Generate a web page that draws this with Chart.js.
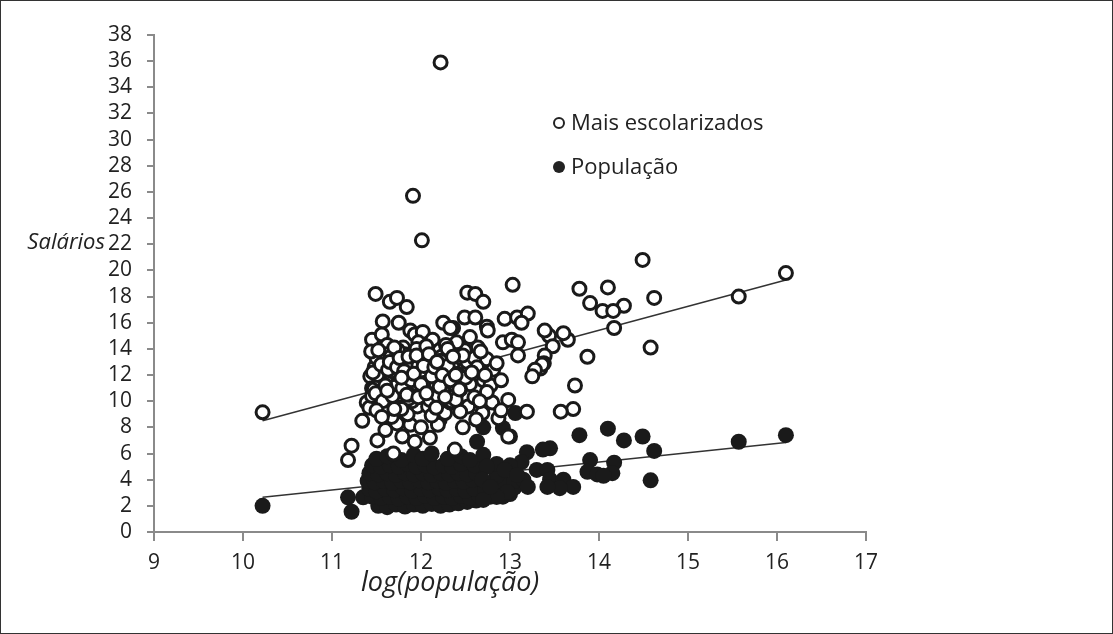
<!DOCTYPE html>
<html>
<head>
<meta charset="utf-8">
<script src="https://cdn.jsdelivr.net/npm/chart.js@4.4.0/dist/chart.umd.min.js"></script>
<style>
  body { margin: 0; background: #fff; }
  #wrap { position: relative; width: 1113px; height: 634px; font-family: "Open Sans", sans-serif; color: #222; }
  #frame { position: absolute; left: 0; top: 0; width: 1113px; height: 634px; box-sizing: border-box; border: 1px solid #333; pointer-events: none; }
  .lbl { position: absolute; white-space: nowrap; font-size: 22px; line-height: 1; }
  .it { font-style: italic; }
  .mk { position: absolute; width: 12px; height: 12px; border-radius: 50%; box-sizing: border-box; }
</style>
</head>
<body>
<div id="wrap">
  <canvas id="chart" width="1113" height="634"></canvas>
  <div class="lbl it" style="right:1008px; top:229px; font-size:22px;">Salários</div>
  <div class="lbl it" style="left:361px; top:567px; font-size:27px;">log(população)</div>
  <div class="mk" style="left:553px; top:117px; border:2px solid #222;"></div>
  <div class="lbl" style="left:571px; top:110px;">Mais escolarizados</div>
  <div class="mk" style="left:553px; top:161px; background:#222;"></div>
  <div class="lbl" style="left:571px; top:154px;">População</div>
  <div id="frame"></div>
</div>
<script>
// log(população) x salário, grupo mais escolarizado (círculos abertos)
const openX = [12.22, 11.91, 12.01, 10.22, 14.49, 16.10, 15.57, 14.62, 14.10, 13.78, 13.90, 14.28, 14.04, 14.16, 14.17, 14.58, 13.87, 13.73, 13.71, 13.57,
  13.65, 13.60, 13.44, 13.39, 13.48, 13.39, 13.38, 13.34, 13.03, 12.52, 12.61, 12.70, 12.49, 12.61, 12.74, 12.75, 12.94, 13.08, 13.20, 13.13,
  12.92, 13.02, 13.09, 13.09, 13.36, 13.28, 13.25, 12.36, 12.55, 12.64, 12.74, 12.81, 12.49, 12.40, 12.33, 11.49, 11.65, 11.73, 11.84, 11.57,
  11.75, 11.88, 11.93, 12.02, 11.97, 12.13, 12.25, 12.33, 11.45, 11.56, 11.80, 11.54, 11.69, 12.21, 11.43, 11.34, 11.51, 11.79, 11.93, 12.10,
  11.22, 11.18, 11.69, 12.21, 12.19, 12.27, 12.18, 12.33, 11.80, 11.96, 11.82, 12.04, 11.65, 11.45, 11.39, 11.57, 11.73, 11.88, 12.53, 12.80,
  12.98, 12.69, 12.87, 13.19, 12.47, 12.98, 12.38, 12.33, 12.70, 12.58, 12.78, 12.74, 11.42,
  11.48, 11.50, 11.52, 11.55, 11.58, 11.60, 11.62, 11.63, 11.66, 11.68, 11.70, 11.72, 11.75, 11.77, 11.79, 11.82, 11.85, 11.87, 11.90, 11.92,
  11.94, 11.96, 11.98, 12.00, 12.02, 12.05, 12.07, 12.09, 12.11, 12.14, 12.16, 12.18, 12.20, 12.23, 12.25, 12.27, 12.29, 12.31, 12.36, 12.40,
  12.42, 12.45, 12.48, 12.52, 12.55, 12.60, 12.63, 12.67, 12.85, 12.90,
  11.45, 11.62, 11.67, 11.85, 11.90, 12.08, 12.12, 12.00, 11.60, 12.28, 12.40, 12.44, 12.60, 12.62, 12.90,
  11.47, 11.53, 11.59, 11.61, 11.64, 11.67, 11.71, 11.74, 11.76, 11.81, 11.83, 11.86, 11.89, 11.91, 11.95, 11.99, 12.03, 12.06, 12.10, 12.13,
  12.15, 12.19, 12.22, 12.26, 12.30, 12.34, 12.37, 12.41, 12.44, 12.47, 11.44, 11.51, 11.58, 11.66, 11.78, 11.87, 11.97, 12.06, 12.17, 12.28,
  12.39, 12.50, 12.57, 12.66, 12.72,
  11.46, 11.49, 11.52, 11.55, 11.57, 11.60, 11.63, 11.65, 11.68, 11.70, 11.73, 11.76, 11.79, 11.81, 11.84, 11.86, 11.89, 11.92, 11.95, 11.97,
  12.00, 12.03, 12.06, 12.09, 12.12, 12.15, 12.18, 12.21, 12.24, 12.27, 12.30, 12.33, 12.36, 12.39, 12.43, 11.50, 11.56, 11.62, 11.70, 11.78];
const openY = [35.9, 25.7, 22.3, 9.15, 20.8, 19.8, 18.0, 17.9, 18.7, 18.6, 17.5, 17.3, 16.9, 16.9, 15.6, 14.1, 13.4, 11.2, 9.4, 9.2,
  14.7, 15.2, 15.0, 15.4, 14.2, 13.5, 12.9, 12.5, 18.9, 18.3, 18.2, 17.6, 16.4, 16.4, 15.7, 15.4, 16.3, 16.4, 16.7, 16.0,
  14.5, 14.7, 14.5, 13.5, 12.8, 12.4, 11.9, 15.6, 14.9, 14.1, 13.2, 12.4, 13.9, 14.5, 13.7, 18.2, 17.6, 17.9, 17.2, 16.1,
  16.0, 15.4, 15.1, 15.3, 14.5, 14.7, 16.0, 15.6, 14.7, 15.1, 14.1, 13.9, 13.7, 13.9, 11.9, 8.5, 7.0, 7.3, 6.9, 7.2,
  6.6, 5.5, 6.0, 8.6, 8.2, 9.1, 9.9, 9.9, 9.6, 9.6, 10.6, 10.3, 10.6, 11.0, 9.9, 9.1, 8.3, 8.2, 9.6, 9.9,
  10.1, 9.1, 8.7, 9.2, 8.0, 7.3, 6.3, 11.2, 11.6, 12.0, 11.2, 10.7, 9.5,
  12.6, 13.3, 10.3, 11.4, 12.2, 12.9, 14.3, 11.0, 11.8, 12.6, 13.2, 10.1, 11.5, 12.1, 12.9, 13.6, 11.2, 11.9, 12.5, 13.3,
  10.8, 11.6, 12.2, 13.0, 13.7, 11.0, 11.8, 12.5, 13.2, 10.6, 11.4, 12.1, 12.8, 13.4, 10.9, 11.7, 12.4, 13.0, 12.2, 12.8,
  11.6, 13.3, 12.4, 13.0, 11.3, 13.3, 12.6, 13.8, 12.9, 11.6,
  10.4, 9.6, 8.8, 9.0, 10.0, 9.6, 8.9, 8.0, 7.8, 10.3, 10.6, 9.2, 10.3, 8.6, 9.3,
  10.9, 11.7, 10.7, 13.6, 9.9, 12.3, 11.1, 13.9, 10.5, 11.5, 12.4, 10.2, 13.0, 11.3, 14.0, 12.0, 11.4, 13.5, 10.1, 12.9,
  11.9, 10.4, 13.1, 11.5, 12.7, 10.0, 11.3, 12.1, 10.9, 13.5, 13.8, 12.0, 9.2, 13.4, 9.4, 10.5, 12.7, 14.2, 9.5, 14.3,
  10.1, 11.8, 12.2, 10.0, 12.0,
  12.2, 10.6, 13.9, 12.8, 10.0, 11.2, 12.4, 13.0, 10.4, 14.1, 12.6, 13.3, 11.0, 12.3, 10.5, 13.4, 11.6, 12.1, 13.5, 10.3,
  11.3, 12.7, 10.6, 13.6, 11.9, 12.6, 13.0, 11.1, 12.0, 10.3, 14.0, 11.6, 13.4, 12.0, 10.9, 9.3, 8.8, 10.8, 9.4, 11.8];

// população total (círculos cheios)
const popX = [10.22, 11.18, 11.22, 11.35,
  11.52, 11.62, 11.72, 11.82, 11.92, 12.02, 12.12, 12.22, 12.32, 12.42, 12.52, 12.62,
  11.45, 11.55, 11.65, 11.75, 11.85, 11.95, 12.05, 12.15, 12.25, 12.35, 12.45, 12.55, 12.65, 12.78, 12.92, 13.00,
  11.42, 11.50, 11.60, 11.70, 11.80, 11.90, 12.00, 12.10, 12.20, 12.30, 12.40, 12.50, 12.60, 12.72, 12.85, 13.05,
  11.40, 11.48, 11.58, 11.68, 11.78, 11.88, 11.98, 12.08, 12.18, 12.28, 12.38, 12.48, 12.58, 12.90, 13.05, 13.15,
  11.42, 11.52, 11.62, 11.72, 11.82, 11.92, 12.02, 12.12, 12.22, 12.32, 12.42, 12.52, 12.62, 12.85,
  11.45, 11.55, 11.65, 11.75, 11.85, 11.95, 12.05, 12.15, 12.25, 12.35, 12.45, 12.60, 12.85,
  11.50, 11.62, 11.78, 11.92, 12.02, 12.12, 12.30, 12.45,
  13.45, 13.37, 13.90, 13.87, 13.98, 13.19, 13.13, 13.00, 12.94, 13.08, 13.30, 13.42, 13.45, 13.60, 13.71, 13.56, 13.42, 13.20, 12.97, 12.85,
  12.70, 12.70, 12.55, 12.74, 12.69, 12.78, 12.63, 12.70, 13.06, 12.92, 13.00,
  13.78, 14.10, 14.28, 14.49, 14.62, 15.57, 16.10, 14.17, 14.15, 14.05, 14.58];
const popY = [2.0, 2.65, 1.55, 2.65,
  2.0, 1.9, 2.1, 1.95, 2.1, 2.0, 2.15, 2.0, 2.1, 2.2, 2.3, 2.4,
  2.7, 2.6, 2.7, 2.55, 2.7, 2.6, 2.75, 2.6, 2.7, 2.6, 2.75, 2.6, 2.8, 2.7, 2.7, 2.9,
  3.3, 3.1, 3.3, 3.2, 3.35, 3.15, 3.3, 3.2, 3.35, 3.2, 3.3, 3.15, 3.3, 3.2, 3.3, 3.4,
  3.9, 3.8, 3.9, 3.75, 3.9, 3.8, 3.95, 3.8, 3.9, 3.75, 3.9, 3.85, 4.0, 3.9, 3.9, 4.0,
  4.5, 4.4, 4.5, 4.35, 4.5, 4.4, 4.5, 4.35, 4.5, 4.4, 4.5, 4.4, 4.5, 4.3,
  5.1, 5.0, 5.1, 5.0, 5.2, 5.0, 5.1, 4.95, 5.1, 5.0, 5.2, 5.1, 5.2,
  5.6, 5.8, 5.5, 5.9, 5.6, 6.0, 5.6, 5.8,
  6.4, 6.3, 5.5, 4.6, 4.4, 6.1, 5.35, 5.1, 4.75, 4.36, 4.75, 4.75, 4.0, 4.0, 3.45, 3.35, 3.45, 3.45, 3.06, 2.68,
  2.45, 5.9, 5.5, 5.0, 4.0, 3.45, 6.9, 8.0, 9.1, 7.95, 7.3,
  7.4, 7.9, 7.0, 7.3, 6.2, 6.9, 7.4, 5.3, 4.5, 4.3, 3.95];

// retas de tendência
const trendX = [10.22, 16.10];
const trendOpenY = [8.5, 19.27];
const trendPopY = [2.65, 6.85];

const xTicks = [9, 17, 1];
const yTicks = [0, 38, 2];

const toPts = (xs, ys) => xs.map((x, i) => ({ x: x, y: ys[i] }));
const ink = '#1a1a1a';
const axisGray = '#8a8a8a';
const tickFont = { family: 'Open Sans', size: 21 };

new Chart(document.getElementById('chart'), {
  type: 'scatter',
  data: {
    datasets: [
      { label: 'Mais escolarizados', data: toPts(openX, openY), pointStyle: 'circle', pointRadius: 6.5,
        pointBackgroundColor: '#fff', pointBorderColor: ink, pointBorderWidth: 3 },
      { label: 'População', data: toPts(popX, popY), pointStyle: 'circle', pointRadius: 8,
        pointBackgroundColor: ink, pointBorderColor: ink, pointBorderWidth: 0 },
      { data: toPts(trendX, trendOpenY), showLine: true, borderColor: '#333', borderWidth: 1.5, pointRadius: 0 },
      { data: toPts(trendX, trendPopY), showLine: true, borderColor: '#333', borderWidth: 1.5, pointRadius: 0 }
    ]
  },
  options: {
    responsive: false,
    devicePixelRatio: 1,
    animation: false,
    layout: { padding: { top: 35, right: 247, left: 0, bottom: 0 } },
    plugins: { legend: { display: false }, tooltip: { enabled: false } },
    scales: {
      x: {
        type: 'linear', min: xTicks[0], max: xTicks[1],
        ticks: { stepSize: xTicks[2], autoSkip: false, color: '#222', font: tickFont, padding: 9 },
        grid: { drawOnChartArea: false, drawTicks: true, tickLength: 9, color: axisGray, lineWidth: 2 },
        border: { color: axisGray, width: 2 },
        afterFit: (s) => { s.height = 102 }
      },
      y: {
        min: yTicks[0], max: yTicks[1],
        ticks: { stepSize: yTicks[2], autoSkip: false, color: '#222', font: tickFont, padding: 15 },
        grid: { drawOnChartArea: false, drawTicks: true, tickLength: 7, color: axisGray, lineWidth: 2 },
        border: { color: axisGray, width: 2 },
        afterFit: (s) => { s.width = 154 }
      }
    }
  }
});
</script>
</body>
</html>
